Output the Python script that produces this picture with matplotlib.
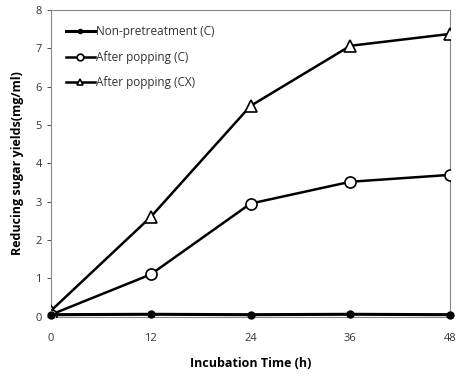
import matplotlib
matplotlib.use("Agg")
import matplotlib.pyplot as plt

time_h = [0, 12, 24, 36, 48]
non_pretreatment_c = [0.05, 0.06, 0.05, 0.06, 0.05]
after_popping_c = [0.05, 1.1, 2.95, 3.52, 3.70]
after_popping_cx = [0.15, 2.6, 5.5, 7.07, 7.38]
labels = ["Non-pretreatment (C)", "After popping (C)", "After popping (CX)"]

plt.rcParams['font.family'] = ['Open Sans', 'DejaVu Sans']

fig = plt.figure(figsize=(4.58, 3.76), dpi=100)
ax = fig.add_axes([0.111, 0.158, 0.872, 0.815])

ax.plot(time_h, after_popping_cx, color='black', lw=1.8, marker='^', ms=8,
        mfc='white', mec='black', mew=1.2, label=labels[2], zorder=3)
ax.plot(time_h, after_popping_c, color='black', lw=1.8, marker='o', ms=8,
        mfc='white', mec='black', mew=1.2, label=labels[1], zorder=3)
ax.plot(time_h, non_pretreatment_c, color='black', lw=2.2, marker='o', ms=5,
        mfc='black', mec='black', label=labels[0], zorder=4, clip_on=False)

ax.set_xlim(0, 48)
ax.set_ylim(0, 8)
ax.set_xticks(time_h)
ax.set_yticks(range(0, 9))
for s in ax.spines.values():
    s.set_color('#888888')
    s.set_linewidth(0.8)
ax.tick_params(axis='both', labelsize=8, colors='#333333', length=3, width=0.6)
ax.tick_params(axis='x', length=0, pad=12)
ax.set_xlabel('Incubation Time (h)', fontsize=9, fontweight='bold', labelpad=9)
ax.set_ylabel('Reducing sugar yields(mg/ml)', fontsize=9, fontweight='bold', labelpad=8)

h, l = ax.get_legend_handles_labels()
order = [2, 1, 0]
leg = ax.legend([h[i] for i in order], [l[i] for i in order], loc='upper left',
                frameon=False, fontsize=8.5, handlelength=2.4, handletextpad=0.1,
                labelspacing=1.05, borderaxespad=0.9, markerscale=0.6)
for t in leg.get_texts():
    t.set_color('#333333')

fig.savefig('out.png', dpi=100)
